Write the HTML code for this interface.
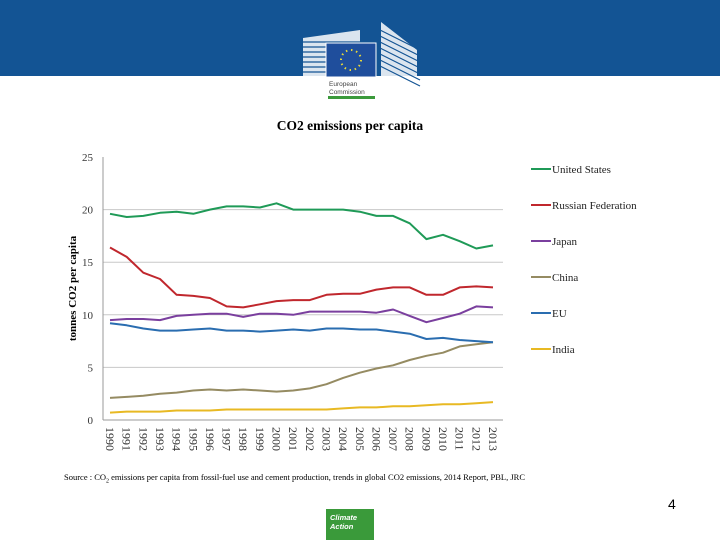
<!DOCTYPE html>
<html><head><meta charset="utf-8"><style>
body{margin:0;width:720px;height:540px;overflow:hidden;background:#fff;font-family:"Liberation Serif",serif;position:relative}
.hdr{position:absolute;left:0;top:0;width:720px;height:76px;background:#135494}
</style></head><body>
<div class="hdr"></div>
<svg style="position:absolute;left:0;top:0" width="720" height="110">
<g fill="#fff">
<polygon points="303,38 360,30 360,76 303,76" opacity="0.85"/>
<polygon points="381,22 417,50 417,76 381,76" opacity="0.85"/>
</g>
<g stroke="#135494" stroke-width="1.2">
<line x1="300" y1="42" x2="362" y2="42"/><line x1="300" y1="47" x2="362" y2="47"/><line x1="300" y1="52" x2="362" y2="52"/><line x1="300" y1="57" x2="362" y2="57"/><line x1="300" y1="62" x2="362" y2="62"/><line x1="300" y1="67" x2="362" y2="67"/><line x1="300" y1="72" x2="362" y2="72"/>
<line x1="380" y1="30" x2="420" y2="50"/><line x1="380" y1="36" x2="420" y2="56"/><line x1="380" y1="42" x2="420" y2="62"/><line x1="380" y1="48" x2="420" y2="68"/><line x1="380" y1="54" x2="420" y2="74"/><line x1="380" y1="60" x2="420" y2="80"/><line x1="380" y1="66" x2="420" y2="86"/>
</g>
<rect x="326" y="43" width="50" height="34" fill="#1f4e9c" stroke="#fff" stroke-width="1"/>
<circle cx="351" cy="60" r="10" fill="none" stroke="#e8d93a" stroke-width="2" stroke-dasharray="1.5 3.7"/>
<text x="329" y="86" font-family="Liberation Sans,sans-serif" font-size="6.5" fill="#444">European</text>
<text x="329" y="94" font-family="Liberation Sans,sans-serif" font-size="6.5" fill="#444">Commission</text>
<rect x="328" y="96" width="47" height="3" fill="#3b9a3b"/>
</svg>
<div style="position:absolute;left:0;width:700px;top:118px;text-align:center;font-weight:bold;font-size:13.5px;">CO2 emissions per capita</div>
<svg id="chart" style="position:absolute;left:0;top:0" width="720" height="540"></svg>
<div style="position:absolute;left:64px;top:472px;font-size:8.5px;white-space:nowrap">Source : CO<sub style="font-size:6px">2</sub> emissions per capita from fossil-fuel use and cement production, trends in global CO2 emissions, 2014 Report, PBL, JRC</div>
<div style="position:absolute;left:668px;top:496px;font-family:'Liberation Sans',sans-serif;font-size:14px">4</div>
<div style="position:absolute;left:326px;top:509px;width:48px;height:31px;background:#3a9a3a;color:#fff;font-family:'Liberation Sans',sans-serif;font-size:7.5px;font-weight:bold;font-style:italic;line-height:9px;padding:4px 0 0 4px;box-sizing:border-box">Climate<br>Action</div>
<script>
const years=["1990","1991","1992","1993","1994","1995","1996","1997","1998","1999","2000","2001","2002","2003","2004","2005","2006","2007","2008","2009","2010","2011","2012","2013"];
const yTicks=[0,5,10,15,20,25];
const seriesNames=["United States","Russian Federation","Japan","China","EU","India"];
const seriesColors=["#1f9a57","#c0272d","#7a3f9e","#958b62","#2a6db0","#e8b923"];
const usData=[19.6,19.3,19.4,19.7,19.8,19.6,20.0,20.3,20.3,20.2,20.6,20.0,20.0,20.0,20.0,19.8,19.4,19.4,18.7,17.2,17.6,17.0,16.3,16.6];
const russiaData=[16.4,15.5,14.0,13.4,11.9,11.8,11.6,10.8,10.7,11.0,11.3,11.4,11.4,11.9,12.0,12.0,12.4,12.6,12.6,11.9,11.9,12.6,12.7,12.6];
const japanData=[9.5,9.6,9.6,9.5,9.9,10.0,10.1,10.1,9.8,10.1,10.1,10.0,10.3,10.3,10.3,10.3,10.2,10.5,9.9,9.3,9.7,10.1,10.8,10.7];
const chinaData=[2.1,2.2,2.3,2.5,2.6,2.8,2.9,2.8,2.9,2.8,2.7,2.8,3.0,3.4,4.0,4.5,4.9,5.2,5.7,6.1,6.4,7.0,7.2,7.4];
const euData=[9.2,9.0,8.7,8.5,8.5,8.6,8.7,8.5,8.5,8.4,8.5,8.6,8.5,8.7,8.7,8.6,8.6,8.4,8.2,7.7,7.8,7.6,7.5,7.4];
const indiaData=[0.7,0.8,0.8,0.8,0.9,0.9,0.9,1.0,1.0,1.0,1.0,1.0,1.0,1.0,1.1,1.2,1.2,1.3,1.3,1.4,1.5,1.5,1.6,1.7];
const allSeries=[usData,russiaData,japanData,chinaData,euData,indiaData];
const NS="http://www.w3.org/2000/svg";
const svg=document.getElementById('chart');
const L=103,R=503,T=157,B=420,yMax=25;
function xPos(i){return 110+i*(493-110)/(years.length-1);}
function yPos(v){return B-(v/yMax)*(B-T);}
function mk(tag,attrs){const e=document.createElementNS(NS,tag);for(const k in attrs)e.setAttribute(k,attrs[k]);svg.appendChild(e);return e;}
yTicks.forEach(t=>{
  if(t>0&&t<25){const g=mk('line',{x1:L,x2:R,y1:yPos(t),y2:yPos(t),stroke:'#c8c8c8','stroke-width':1});
  
  }
  const tx=mk('text',{x:93,y:yPos(t)+4,'text-anchor':'end','font-size':'11',fill:'#333'});
  tx.textContent=t;
  
  
});
const ax=mk('line',{x1:L,x2:L,y1:T,y2:B,stroke:'#999','stroke-width':1});


const xax=mk('line',{x1:L,x2:R,y1:B,y2:B,stroke:'#999','stroke-width':1});


years.forEach((y,i)=>{
  const tx=mk('text',{x:0,y:0,'font-size':'12',fill:'#333',transform:`translate(${xPos(i)-4},${B+7}) rotate(90)`});
  tx.textContent=y;
  
  
});
const yt=mk('text',{x:0,y:0,'font-size':'11','font-weight':'bold','text-anchor':'middle',transform:`translate(76,${(T+B)/2}) rotate(-90)`});
yt.textContent='tonnes CO2 per capita';


allSeries.forEach((d,s)=>{
  const pts=d.map((v,i)=>xPos(i).toFixed(1)+','+yPos(v).toFixed(1)).join(' ');
  const pl=mk('polyline',{points:pts,fill:'none',stroke:seriesColors[s],'stroke-width':2,'stroke-linejoin':'round'});
  
  
  const ly=169+s*36;
  const ll=mk('line',{x1:531,x2:551,y1:ly,y2:ly,stroke:seriesColors[s],'stroke-width':2});
  
  
  const lt=mk('text',{x:552,y:ly+4,'font-size':'11',fill:'#222'});
  lt.textContent=seriesNames[s];
  
  
});
</script>
</body></html>
